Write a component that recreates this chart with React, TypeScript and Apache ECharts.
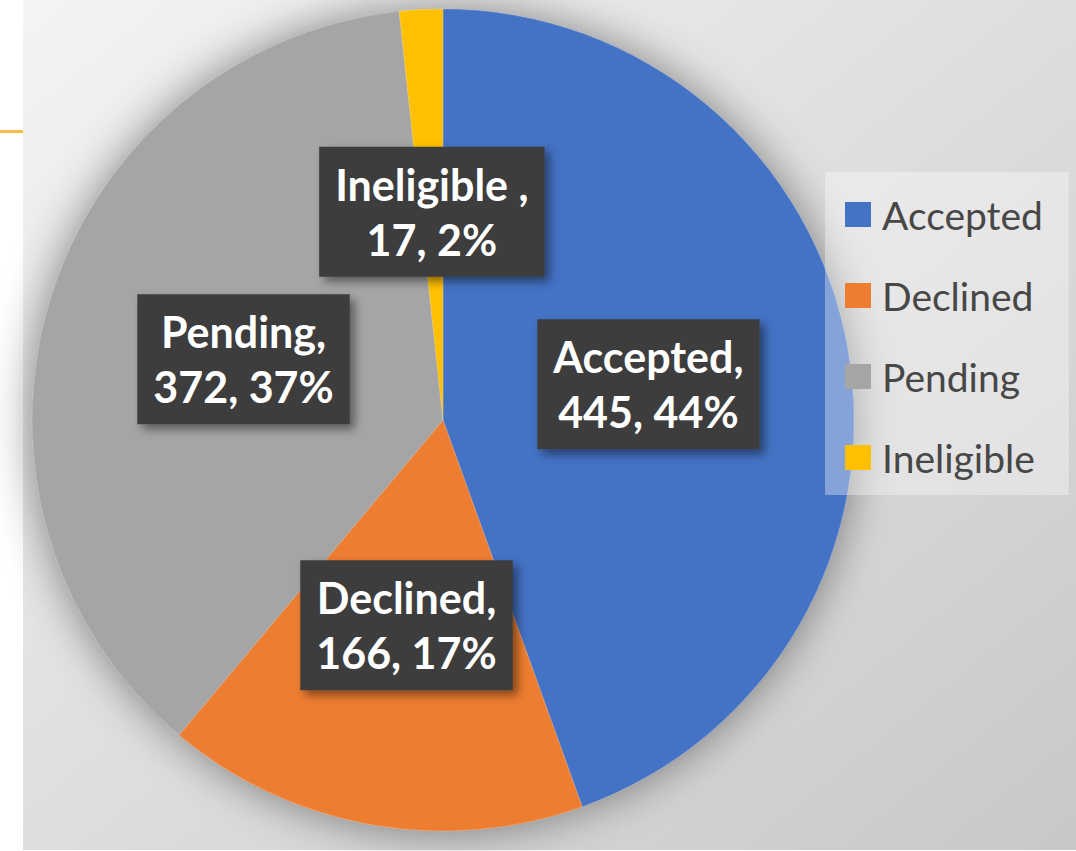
import React, { useEffect, useRef } from "react";
import * as echarts from "echarts";

const categories = ["Accepted", "Declined", "Pending", "Ineligible "];
const values = [445, 166, 372, 17];
const colors = ["#4472C4", "#ED7D31", "#A5A5A5", "#FFC000"];

export default function App() {
  const ref = useRef<HTMLDivElement>(null);
  useEffect(() => {
    if (!ref.current) return;
    const chart = echarts.init(ref.current, undefined, { renderer: "svg" });
    const data = categories.map((name, i) => ({ name, value: values[i] }));
    chart.setOption({
      animation: false,
      backgroundColor: "#ffffff",
      color: colors,
      graphic: [
        {
          type: "rect",
          z: -10,
          shape: { x: 23, y: 0, width: 1053, height: 850 },
          style: {
            fill: new echarts.graphic.LinearGradient(0, 0, 1, 1, [
              { offset: 0, color: "#f4f4f4" },
              { offset: 1, color: "#c8c8c8" },
            ]),
          },
        },
        {
          type: "line",
          z: -10,
          shape: { x1: 0, y1: 131.5, x2: 23, y2: 131.5 },
          style: { stroke: "#F5BE49", lineWidth: 3 },
        },
      ],
      legend: {
        orient: "vertical",
        left: 825,
        top: 172,
        backgroundColor: "rgba(255,255,255,0.35)",
        padding: [23, 24, 18, 20],
        itemWidth: 26,
        itemHeight: 25,
        itemGap: 42,
        icon: "rect",
        data: categories,
        textStyle: {
          fontFamily: "Lato",
          fontSize: 39,
          lineHeight: 34,
          color: "#474747",
          padding: [0, 0, 0, 6],
        },
      },
      series: [
        {
          type: "pie",
          name: "shadow",
          silent: true,
          z: 1,
          center: [443, 420],
          radius: 411,
          startAngle: 90,
          data,
          label: { show: false },
          labelLine: { show: false },
          itemStyle: {
            shadowBlur: 45,
            shadowColor: "rgba(0,0,0,0.45)",
          },
        },
        {
          type: "pie",
          name: "Status",
          z: 2,
          center: [443, 420],
          radius: 411,
          startAngle: 90,
          percentPrecision: 0,
          avoidLabelOverlap: false,
          data,
          itemStyle: {
            borderColor: "rgba(255,255,255,0.18)",
            borderWidth: 1,
          },
          labelLine: { show: false },
          label: {
            show: true,
            position: "inside",
            formatter: "{b},\n{c}, {d}%",
            fontFamily: "Lato",
            fontWeight: "bold",
            fontSize: 43,
            lineHeight: 55,
            color: "#ffffff",
            align: "center",
            backgroundColor: "#3d3d3d",
            padding: [10, 16],
            shadowBlur: 10,
            shadowOffsetX: 5,
            shadowOffsetY: 5,
            shadowColor: "rgba(0,0,0,0.45)",
          },
        },
      ],
    });
    return () => chart.dispose();
  }, []);
  return (
    <div
      ref={ref}
      style={{ position: "fixed", left: 0, top: 0, width: 1076, height: 851 }}
    />
  );
}
